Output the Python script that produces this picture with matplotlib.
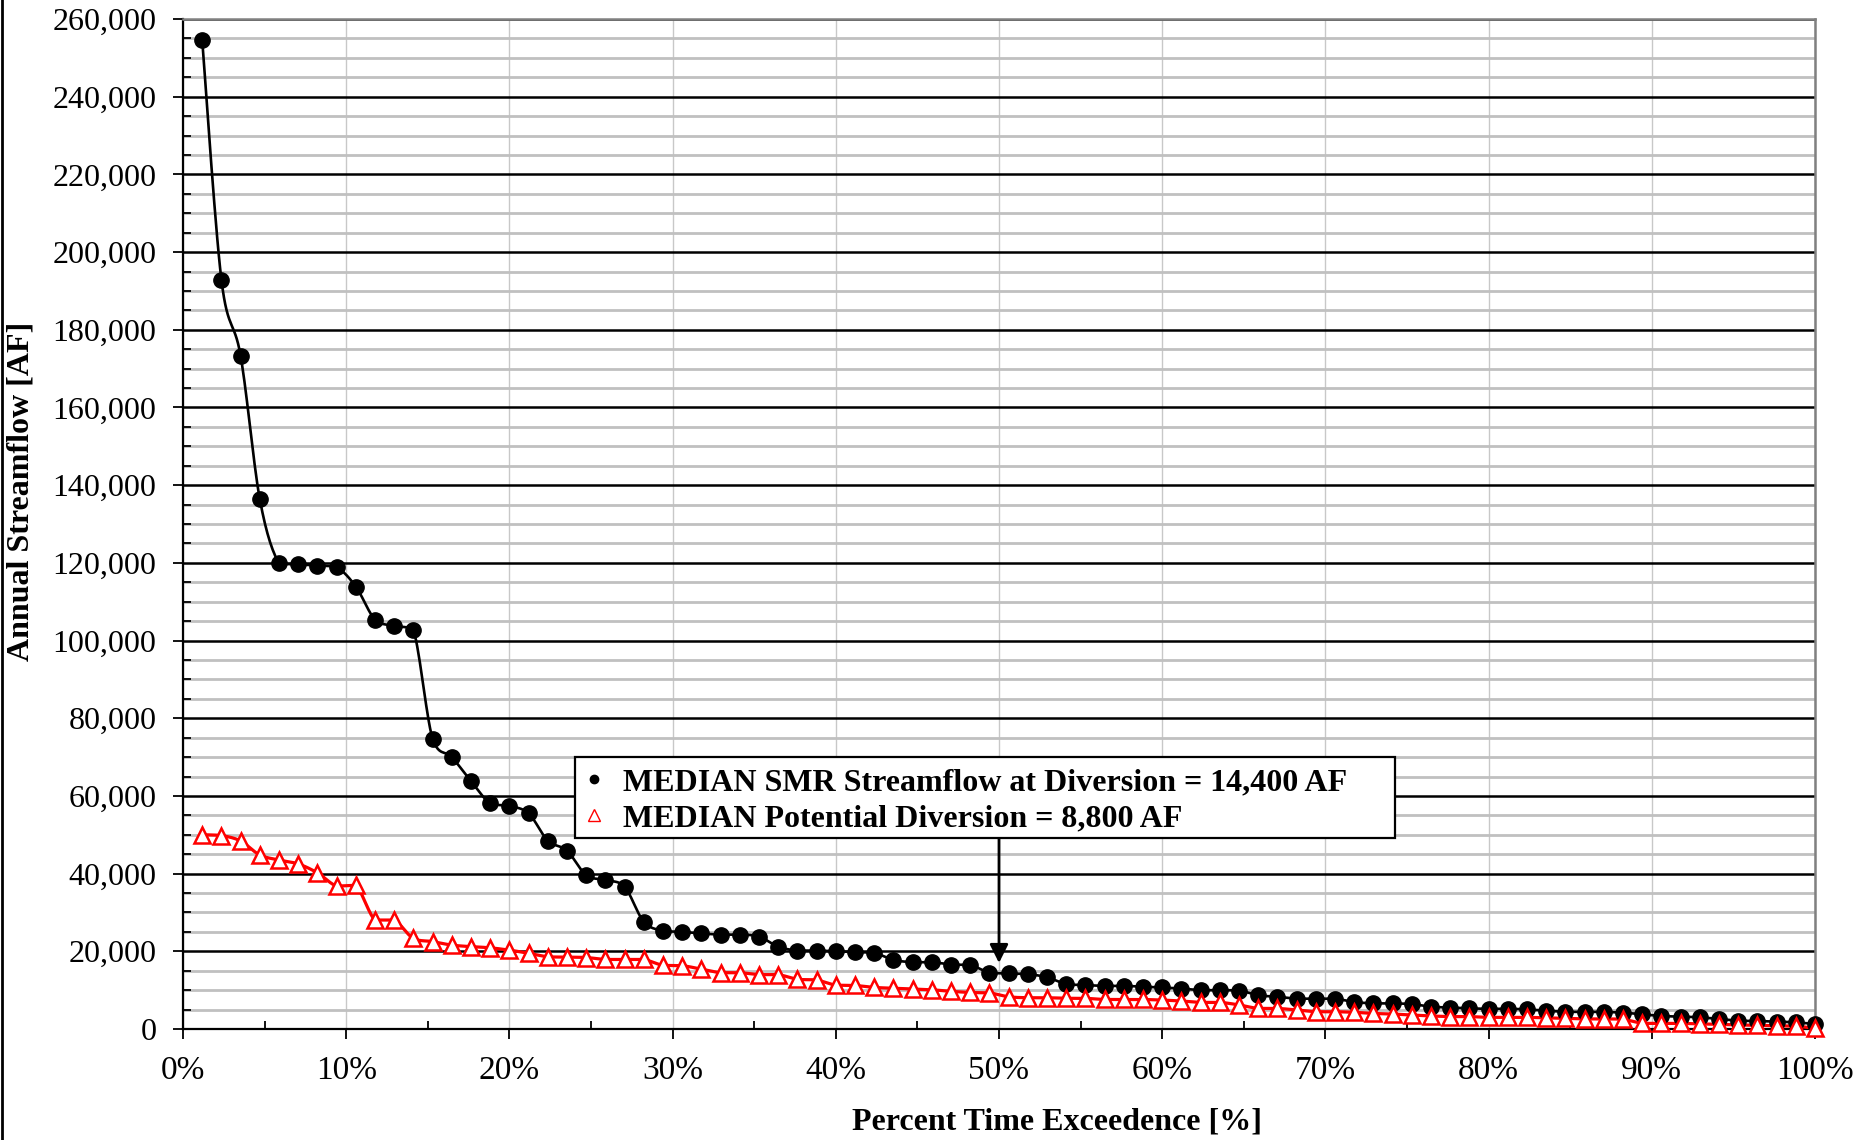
import numpy as np
import matplotlib
matplotlib.use("Agg")
import matplotlib.pyplot as plt
from matplotlib.lines import Line2D
from matplotlib.patches import Rectangle
from matplotlib.ticker import MultipleLocator, FuncFormatter

# ---- data ----
n_points = 85
exceedance_pct = [100.0 * i / n_points for i in range(1, n_points + 1)]

streamflow_af = [
    254600, 192900, 173300, 136400, 119900, 119600, 119300, 118900, 113900, 105400,
    103800, 102700, 74700, 70000, 63800, 58100, 57400, 55500, 48500, 45900,
    39600, 38350, 36600, 27600, 25300, 25000, 24600, 24300, 24300, 23800,
    21200, 20200, 20200, 20000, 19800, 19600, 17800, 17200, 17200, 16600,
    16500, 14500, 14300, 14150, 13300, 11600, 11300, 11100, 11100, 10900,
    10700, 10400, 10000, 10000, 9900, 8700, 8300, 7800, 7800, 7800,
    6950, 6600, 6600, 6400, 5750, 5500, 5300, 5200, 5200, 5050,
    4700, 4450, 4400, 4400, 4200, 3800, 3350, 3200, 3000, 2600,
    2150, 2050, 1900, 1700, 1300,
]

diversion_af = [
    50000, 49800, 48400, 44800, 43500, 42500, 40200, 36800, 37000, 28050,
    28050, 23300, 22500, 21600, 21200, 20900, 20300, 19500, 18600, 18500,
    18400, 17900, 17900, 17900, 16400, 16300, 15400, 14500, 14500, 14000,
    14000, 12800, 12600, 11300, 11200, 10700, 10500, 10300, 10100, 9700,
    9400, 9300, 8300, 8050, 8050, 7900, 7900, 7600, 7600, 7600,
    7450, 7200, 6850, 6850, 6200, 5300, 5300, 4900, 4450, 4450,
    4300, 4000, 3850, 3600, 3350, 3200, 3200, 3000, 3000, 3000,
    2850, 2750, 2600, 2600, 2500, 1450, 1450, 1450, 1300, 1200,
    1050, 950, 850, 750, 150,
]

label_flow = "MEDIAN SMR Streamflow at Diversion = 14,400 AF"
label_div = "MEDIAN Potential Diversion = 8,800 AF"
x_label = "Percent Time Exceedence [%]"
y_label = "Annual Streamflow [AF]"
median_pct = 50


def smooth(x, y, n=16):
    pts = np.column_stack([np.asarray(x, float), np.asarray(y, float)])
    P = np.vstack([pts[0], pts, pts[-1]])
    out = []
    t = np.linspace(0, 1, n)[:, None]
    for i in range(1, len(P) - 2):
        p0, p1, p2, p3 = P[i - 1], P[i], P[i + 1], P[i + 2]
        c1 = p1 + (p2 - p0) / 6.0
        c2 = p2 - (p3 - p1) / 6.0
        lo, hi = min(p1[1], p2[1]), max(p1[1], p2[1])
        c1[1] = np.clip(c1[1], lo, hi)
        c2[1] = np.clip(c2[1], lo, hi)
        seg = ((1 - t) ** 3) * p1 + 3 * ((1 - t) ** 2) * t * c1 + 3 * (1 - t) * t ** 2 * c2 + t ** 3 * p2
        out.append(seg if i == 1 else seg[1:])
    s = np.vstack(out)
    return s[:, 0], s[:, 1]


plt.rcParams['font.family'] = ['Liberation Serif', 'DejaVu Serif']

fig = plt.figure(figsize=(18.72, 11.40), dpi=100)
ax = fig.add_axes([183 / 1872, 1 - 1029 / 1140, (1815 - 183) / 1872, (1029 - 19) / 1140])

ax.set_xlim(0, 100)
ax.set_ylim(0, 260000)

# grid
ax.yaxis.set_major_locator(MultipleLocator(20000))
ax.yaxis.set_minor_locator(MultipleLocator(5000))
ax.xaxis.set_major_locator(MultipleLocator(10))
ax.xaxis.set_minor_locator(MultipleLocator(5))
ax.grid(axis='y', which='minor', color='#c0c0c0', lw=2.0, zorder=0)
ax.grid(axis='y', which='major', color='black', lw=1.8, zorder=0.5)
ax.grid(axis='x', which='major', color='#c8c8c8', lw=1.0, zorder=0)
ax.set_axisbelow(True)

ax.yaxis.set_major_formatter(FuncFormatter(lambda v, p: f"{int(v):,}"))
ax.xaxis.set_major_formatter(FuncFormatter(lambda v, p: f"{int(v)}%"))

ax.tick_params(axis='both', which='major', direction='out', length=7, width=1.3,
               colors='black')
ax.tick_params(axis='y', which='major', pad=12, labelsize=23)
ax.tick_params(axis='x', which='major', pad=12, labelsize=24)
ax.tick_params(axis='both', which='minor', direction='in', length=6, width=1.3, colors='black')

for s in ['left', 'bottom']:
    ax.spines[s].set_color('black')
    ax.spines[s].set_linewidth(1.6)
for s in ['top', 'right']:
    ax.spines[s].set_color('#808080')
    ax.spines[s].set_linewidth(1.8)

# series
sx, sy = smooth(exceedance_pct, streamflow_af)
ax.plot(sx, sy, color='black', lw=1.9, zorder=3)
ax.plot(exceedance_pct, streamflow_af, ls='none', marker='o', ms=11,
        color='black', zorder=4, clip_on=False)

dx, dy = smooth(exceedance_pct, diversion_af)
ax.plot(dx, dy, color='#ff0000', lw=2.3, zorder=3)
ax.plot(exceedance_pct, diversion_af, ls='none', marker='^', ms=11.5,
        markerfacecolor='white', markeredgecolor='#ff0000', markeredgewidth=1.8,
        zorder=5, clip_on=False)

# arrow to median
ax.annotate('', xy=(median_pct, 17000), xytext=(median_pct, 49500),
            arrowprops=dict(arrowstyle='-|>', color='black', lw=2.0,
                            mutation_scale=28, shrinkA=0, shrinkB=0),
            zorder=6)

# legend box
box_x0, box_x1 = (575 - 183) / 1632, (1395 - 183) / 1632
box_y0, box_y1 = (1029 - 838) / 1010, (1029 - 757) / 1010
ax.add_patch(Rectangle((box_x0, box_y0), box_x1 - box_x0, box_y1 - box_y0,
                       transform=ax.transAxes, facecolor='white', edgecolor='black',
                       lw=1.6, zorder=6.5))

handles = [
    Line2D([], [], ls='none', marker='o', ms=6, color='black'),
    Line2D([], [], ls='none', marker='^', ms=8, markerfacecolor='white',
           markeredgecolor='#ff0000', markeredgewidth=1.0),
]
leg = ax.legend(handles, [label_flow, label_div], loc='upper left',
                bbox_to_anchor=(box_x0, box_y1 - 0.001), borderaxespad=0,
                prop=dict(family='Liberation Serif', weight='bold', size=23),
                frameon=False, handlelength=0.6, handletextpad=0.6, borderpad=0.3,
                labelspacing=0.22)
leg.set_zorder(7)

ax.set_xlabel(x_label, fontsize=23, fontweight='bold')
ax.set_ylabel(y_label, fontsize=23, fontweight='bold')
ax.xaxis.label.set_va('center')
ax.yaxis.label.set_va('center')
ax.xaxis.set_label_coords((1057 - 183) / 1632, -(1122 - 1029) / 1010)
ax.yaxis.set_label_coords((21 - 183) / 1632, (1029 - 491) / 1010)

fig.add_artist(Line2D([0.0012, 0.0012], [0, 1], transform=fig.transFigure,
                      color='black', lw=2))

fig.savefig('out.png', dpi=100)
